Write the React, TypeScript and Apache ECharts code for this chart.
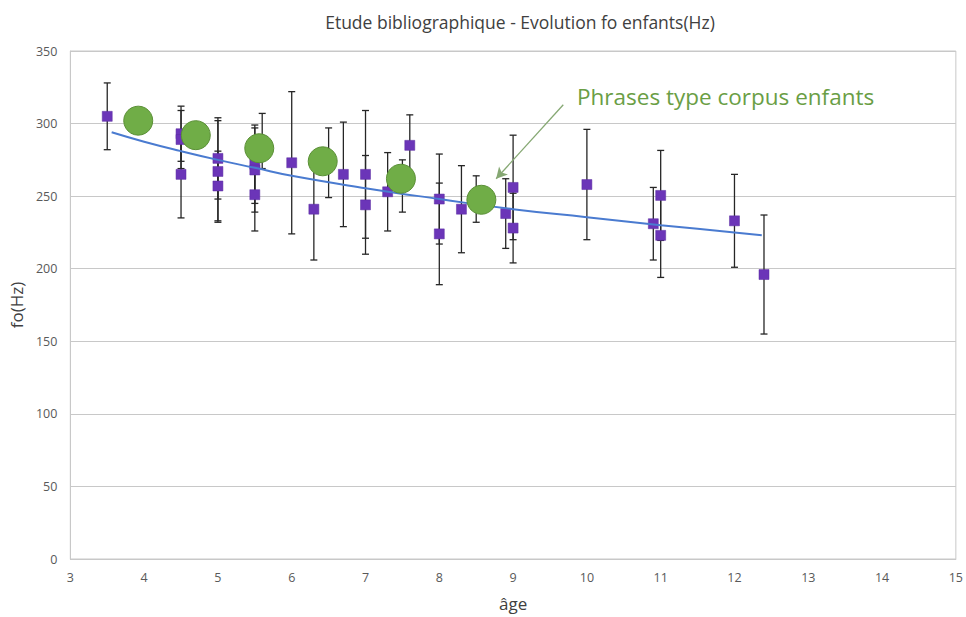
import React, { useEffect, useRef } from "react";
import * as echarts from "echarts";

// Literature data: age (years), fo (Hz), error (± Hz)
const litAges = [3.5, 4.5, 4.5, 4.5, 5.0, 5.0, 5.0, 5.5, 5.5, 5.5, 5.6, 6.0, 6.3, 6.5, 6.7, 7.0, 7.0, 7.3, 7.5, 7.6, 8.0, 8.0, 8.3, 8.5, 8.9, 9.0, 9.0, 10.0, 10.9, 11.0, 11.0, 12.0, 12.4];
const litFo = [305, 293, 289, 265, 276, 267, 257, 272, 268, 251, 288, 273, 241, 273, 265, 265, 244, 253, 257, 285, 248, 224, 241, 248, 238, 256, 228, 258, 231, 250.5, 223, 233, 196];
const litErr = [23, 19, 20, 30, 28, 35, 24, 27, 29, 25, 19, 49, 35, 24, 36, 44, 34, 27, 18, 21, 31, 35, 30, 16, 24, 36, 24, 38, 25, 31, 29, 32, 41];

// Corpus sentences (green)
const corpusAges = [3.92, 4.7, 5.56, 6.42, 7.48, 8.57];
const corpusFo = [302, 292, 283, 274, 262, 247.5];

// Trend line
const trendAges = [3.56, 4, 4.5, 5, 5.5, 6, 7, 8, 9, 10, 11, 12, 12.37];
const trendFo = [294, 287.5, 281, 275, 269.5, 264, 255.5, 248, 241, 235.5, 230, 225, 223];

// Annotation
const annotationText = "Phrases type corpus enfants";
const arrowFrom = [9.68, 313];
const arrowTo = [8.77, 262];

const FONT = "'Open Sans', 'Noto Sans', sans-serif";

export default function App() {
  const ref = useRef<HTMLDivElement>(null);
  useEffect(() => {
    if (!ref.current) return;
    const chart = echarts.init(ref.current, undefined, { renderer: "svg" });
    const litData = litAges.map((a, i) => [a, litFo[i], litErr[i]]);
    const corpusData = corpusAges.map((a, i) => [a, corpusFo[i]]);
    const trendData = trendAges.map((a, i) => [a, trendFo[i]]);
    chart.setOption({
      animation: false,
      backgroundColor: "#ffffff",
      textStyle: { fontFamily: FONT },
      title: {
        text: "Etude bibliographique - Evolution fo enfants(Hz)",
        left: 515,
        top: 8,
        textAlign: "center",
        textStyle: { fontFamily: FONT, fontSize: 17.5, fontWeight: "normal", color: "#404040" },
      },
      grid: { left: 70, right: 9, top: 51, bottom: 57, show: true, borderColor: "#C8C8C8", borderWidth: 1 },
      xAxis: {
        type: "value",
        min: 3,
        max: 15,
        interval: 1,
        name: "âge",
        nameLocation: "middle",
        nameGap: 36,
        nameTextStyle: { fontFamily: FONT, fontSize: 17, color: "#404040" },
        axisLine: { show: true, lineStyle: { color: "#C8C8C8" } },
        axisTick: { show: false },
        splitLine: { show: false },
        axisLabel: { fontFamily: FONT, fontSize: 12.5, color: "#595959", margin: 12 },
      },
      yAxis: {
        type: "value",
        min: 0,
        max: 350,
        interval: 50,
        name: "fo(Hz)",
        nameLocation: "middle",
        nameGap: 43,
        nameRotate: 90,
        nameTextStyle: { fontFamily: FONT, fontSize: 17, color: "#404040" },
        axisLine: { show: true, lineStyle: { color: "#C8C8C8" } },
        axisTick: { show: false },
        splitLine: { show: true, lineStyle: { color: "#C8C8C8", width: 1 } },
        axisLabel: { fontFamily: FONT, fontSize: 12.5, color: "#595959", margin: 13 },
      },
      graphic: [
        {
          type: "text",
          left: 577,
          top: 85,
          style: { text: annotationText, fontFamily: FONT, fontSize: 22.5, fill: "#6A9E45" },
        },
      ],
      series: [
        {
          type: "custom",
          name: "errors",
          data: litData,
          encode: { x: 0, y: 1 },
          z: 2,
          renderItem: (params: any, api: any) => {
            const x = api.value(0);
            const y = api.value(1);
            const e = api.value(2);
            const top = api.coord([x, y + e]);
            const bot = api.coord([x, y - e]);
            const hw = 3.5;
            const style = { stroke: "#262626", lineWidth: 1.3 };
            return {
              type: "group",
              children: [
                { type: "line", shape: { x1: top[0], y1: top[1], x2: bot[0], y2: bot[1] }, style },
                { type: "line", shape: { x1: top[0] - hw, y1: top[1], x2: top[0] + hw, y2: top[1] }, style },
                { type: "line", shape: { x1: bot[0] - hw, y1: bot[1], x2: bot[0] + hw, y2: bot[1] }, style },
              ],
            };
          },
        },
        {
          type: "scatter",
          name: "littérature",
          data: litData.map((d) => [d[0], d[1]]),
          symbol: "rect",
          symbolSize: 10,
          z: 3,
          itemStyle: { color: "#6B35B8", borderColor: "#5A2DA0", borderWidth: 0.5, opacity: 1 },
        },
        {
          type: "line",
          name: "tendance",
          data: trendData,
          smooth: true,
          showSymbol: false,
          symbol: "none",
          z: 4,
          lineStyle: { color: "#4A7BD0", width: 2 },
        },
        {
          type: "scatter",
          name: "corpus",
          data: corpusData,
          symbol: "circle",
          symbolSize: 29,
          z: 5,
          itemStyle: { color: "#70AD47", borderColor: "#5B9037", borderWidth: 1, opacity: 1 },
          markLine: {
            silent: true,
            symbol: ["none", "arrow"],
            symbolSize: [9, 11],
            label: { show: false },
            lineStyle: { color: "#86A873", width: 1.3, type: "solid" },
            data: [[{ coord: arrowFrom }, { coord: arrowTo }]],
          },
        },
      ],
    });
    return () => chart.dispose();
  }, []);
  return (
    <div
      ref={ref}
      style={{ position: "fixed", left: 0, top: 0, width: 966, height: 617, background: "#fff" }}
    />
  );
}
